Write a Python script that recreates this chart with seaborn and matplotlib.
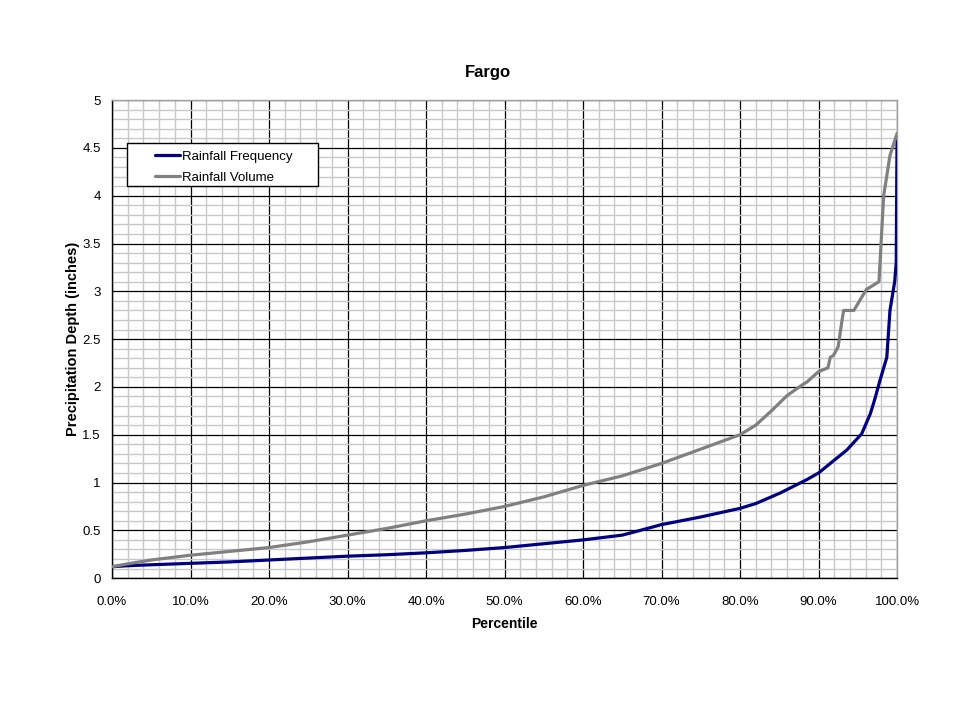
import numpy as np
import pandas as pd
import matplotlib
matplotlib.use("Agg")
import matplotlib.pyplot as plt
from matplotlib.ticker import MultipleLocator, FuncFormatter
from matplotlib.patches import Rectangle
import seaborn as sns

# Percentile (%) and precipitation depth (inches)
freq_pct = [0, 2, 5, 10, 15, 20, 25, 30, 35, 40, 45, 50, 55, 60, 65, 67.3, 70, 75, 80, 82, 85.1,
            88.5, 90, 91.5, 93.6, 95.5, 96.6, 97.2, 97.8, 98.7, 99.1, 99.7, 99.9, 100]
freq_val = [0.12, 0.13, 0.14, 0.155, 0.17, 0.19, 0.21, 0.23, 0.245, 0.265, 0.29, 0.32, 0.36, 0.40,
            0.45, 0.50, 0.56, 0.64, 0.73, 0.78, 0.89, 1.03, 1.10, 1.20, 1.34, 1.51, 1.72, 1.88,
            2.06, 2.31, 2.80, 3.10, 3.30, 4.60]

vol_pct = [0, 2, 5, 10, 15, 20, 25, 30, 35, 40, 45, 50, 55, 60, 65, 67.3, 70, 75, 80, 82, 84,
           86, 87.9, 88.5, 90, 91.2, 91.5, 91.9, 92.5, 93, 93.2, 94.5, 96.1, 97.7, 98.3, 99.1, 100]
vol_val = [0.12, 0.15, 0.19, 0.24, 0.28, 0.32, 0.38, 0.45, 0.52, 0.60, 0.67, 0.75, 0.85, 0.97,
           1.07, 1.13, 1.20, 1.35, 1.50, 1.60, 1.75, 1.91, 2.02, 2.05, 2.16, 2.20, 2.31, 2.33,
           2.42, 2.70, 2.80, 2.80, 3.02, 3.10, 4.00, 4.42, 4.65]

series_names = ["Rainfall Frequency", "Rainfall Volume"]
colors = ["#000080", "#808080"]

df = pd.concat([
    pd.DataFrame({"Percentile": freq_pct, "Depth": freq_val, "Series": series_names[0]}),
    pd.DataFrame({"Percentile": vol_pct, "Depth": vol_val, "Series": series_names[1]}),
])

sns.set_style("white")
plt.rcParams["font.family"] = ["Liberation Sans", "DejaVu Sans"]
plt.rcParams.update({"text.color": "black", "axes.labelcolor": "black",
                     "xtick.color": "black", "ytick.color": "black"})

fig = plt.figure(figsize=(9.6, 7.2), dpi=100)
ax = fig.add_axes([0.1167, 0.197, 0.8177, 0.664])

sns.lineplot(data=df, x="Percentile", y="Depth", hue="Series", palette=colors,
             hue_order=series_names, linewidth=2.3, sort=False, estimator=None, ax=ax, zorder=5)

ax.set_xlim(0, 100)
ax.set_ylim(0, 5)
ax.xaxis.set_major_locator(MultipleLocator(10))
ax.xaxis.set_minor_locator(MultipleLocator(2))
ax.yaxis.set_major_locator(MultipleLocator(0.5))
ax.yaxis.set_minor_locator(MultipleLocator(0.1))
ax.xaxis.set_major_formatter(FuncFormatter(lambda v, p: f"{v:.1f}%"))
ax.yaxis.set_major_formatter(FuncFormatter(lambda v, p: f"{v:g}"))

ax.grid(which="minor", color="#c8c8c8", linewidth=1.0, zorder=0)
ax.grid(which="major", color="black", linewidth=0.9, zorder=1)
ax.set_axisbelow(True)

for s in ["left", "bottom"]:
    ax.spines[s].set_color("black")
    ax.spines[s].set_linewidth(1.0)
for s in ["top", "right"]:
    ax.spines[s].set_color("#a0a0a0")
    ax.spines[s].set_linewidth(1.0)

ax.tick_params(which="major", direction="out", length=4, width=1, labelsize=9.5, colors="black")
ax.tick_params(axis="x", which="major", pad=9)
ax.tick_params(axis="y", which="major", pad=4)
ax.tick_params(which="minor", length=0)

ax.set_xlabel("Percentile", fontsize=10, fontweight="bold", labelpad=6)
ax.set_ylabel("Precipitation Depth (inches)", fontsize=10.5, fontweight="bold", labelpad=2)
fig.text(0.508, 0.9, "Fargo", fontsize=12, fontweight="bold", ha="center", va="center")

# legend box (frame drawn separately to match the reference's indented handles)
ax.add_patch(Rectangle((0.0191, 0.820), 0.2433, 0.090, transform=ax.transAxes,
                       facecolor="white", edgecolor="black", linewidth=1.0, zorder=9))
leg = ax.legend(loc="upper left", bbox_to_anchor=(0.0548, 0.894), fontsize=9.5, frameon=False,
                handlelength=1.9, borderpad=0, labelspacing=0.65,
                handletextpad=0.15, borderaxespad=0)
leg.set_zorder(10)

fig.savefig("out.png", dpi=100, facecolor="white")
